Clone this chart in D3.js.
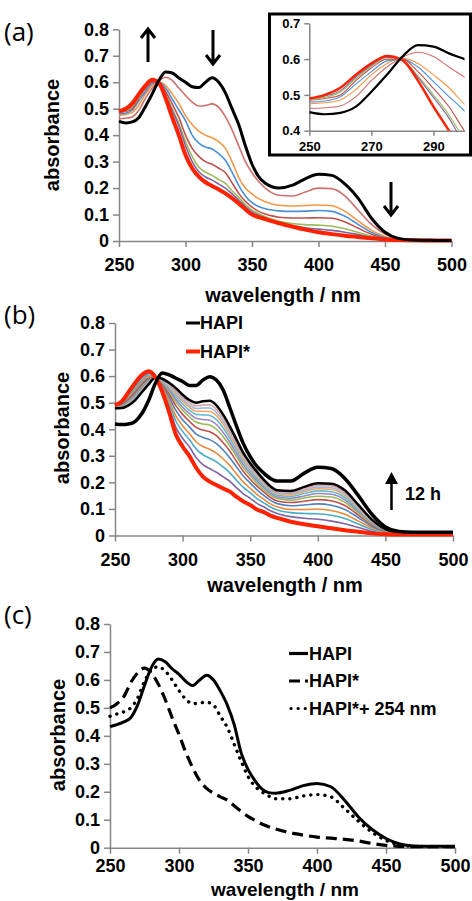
<!DOCTYPE html>
<html><head><meta charset="utf-8">
<script src="https://cdn.jsdelivr.net/npm/d3@7"></script>
<style>
html,body{margin:0;padding:0;background:#fff;}
svg{display:block;}
</style></head><body>
<svg id="chart" width="472" height="901"></svg>
<script>
// ---------- data ----------
const W = [250,255,260,265,270,275,280,285,290,295,300,305,310,315,320,325,330,335,340,345,350,355,360,365,370,380,390,400,410,420,430,440,450,460,470,480,490,500];
const yTicks = [0,0.1,0.2,0.3,0.4,0.5,0.6,0.7,0.8];
const xTicks = [250,300,350,400,450,500];
const insetXTicks = [250,270,290];
const insetYTicks = [0.4,0.5,0.6,0.7];

// panel (a)
const aHAPI = [.452,.446,.45,.467,.509,.556,.607,.639,.635,.616,.60,.583,.58,.60,.617,.60,.56,.50,.44,.36,.29,.243,.218,.205,.20,.21,.235,.252,.248,.215,.16,.085,.033,.01,.004,.003,.002,.002];
const aStep1 = [.462,.464,.469,.495,.54,.578,.605,.619,.607,.578,.55,.525,.51,.512,.518,.505,.47,.42,.36,.30,.258,.225,.20,.182,.173,.17,.185,.20,.198,.17,.115,.062,.026,.009,.004,.003,.002,.002];
const aStep2 = [.475,.478,.486,.515,.556,.588,.602,.588,.556,.52,.474,.44,.415,.40,.39,.375,.35,.30,.24,.20,.178,.16,.148,.14,.135,.132,.134,.136,.133,.112,.075,.04,.017,.007,.003,.002,.002,.002];
const aStep3 = [.48,.483,.495,.53,.565,.595,.60,.578,.537,.495,.455,.40,.37,.355,.348,.33,.305,.26,.21,.17,.145,.13,.122,.117,.114,.112,.113,.115,.112,.093,.062,.032,.013,.005,.003,.002,.002,.002];
const aStep4 = [.485,.49,.50,.54,.575,.60,.60,.565,.518,.467,.40,.35,.32,.30,.29,.275,.258,.22,.18,.15,.128,.112,.102,.095,.09,.087,.087,.088,.086,.072,.048,.025,.01,.004,.003,.002,.002,.002];
const aStep5 = [.487,.493,.508,.545,.58,.604,.597,.553,.50,.444,.375,.32,.28,.26,.248,.232,.218,.19,.165,.138,.117,.103,.092,.082,.075,.066,.062,.06,.056,.046,.032,.018,.008,.004,.003,.002,.002,.002];
const aStep6 = [.489,.497,.512,.55,.583,.605,.597,.549,.493,.435,.36,.30,.262,.242,.23,.215,.20,.178,.155,.13,.11,.097,.087,.077,.07,.058,.05,.045,.04,.033,.024,.014,.007,.004,.003,.002,.002,.002];
const aHAPIstar = [.49,.50,.52,.556,.588,.609,.597,.54,.467,.40,.325,.275,.243,.222,.208,.195,.18,.162,.142,.12,.10,.09,.083,.075,.068,.055,.043,.033,.026,.02,.015,.01,.006,.004,.003,.002,.002,.002];

// panel (b)
const bHAPI = [.42,.418,.42,.43,.46,.51,.575,.612,.605,.592,.58,.565,.565,.585,.598,.585,.548,.48,.41,.345,.297,.26,.235,.215,.205,.205,.235,.257,.252,.215,.15,.08,.032,.015,.012,.012,.012,.012];
const b12h = [.479,.48,.49,.51,.54,.57,.595,.59,.575,.555,.53,.51,.50,.505,.507,.49,.455,.41,.36,.31,.272,.24,.21,.185,.17,.168,.183,.197,.195,.17,.115,.06,.024,.011,.008,.007,.007,.007];
const bHAPIstar = [.49,.505,.54,.575,.605,.618,.595,.54,.465,.38,.335,.30,.255,.222,.203,.19,.177,.165,.145,.128,.115,.098,.088,.075,.066,.052,.042,.035,.027,.02,.014,.008,.005,.004,.004,.004,.004,.004];
const bT1 = [.488,.501,.532,.565,.595,.610,.595,.548,.483,.408,.366,.334,.294,.267,.252,.238,.221,.204,.179,.157,.14,.121,.108,.093,.083,.071,.065,.061,.054,.044,.03,.016,.008,.005,.004,.004,.004,.004];
const bT2 = [.487,.498,.526,.556,.586,.604,.595,.555,.497,.431,.392,.361,.326,.304,.291,.277,.258,.236,.207,.181,.161,.139,.123,.107,.096,.086,.083,.082,.076,.064,.043,.023,.011,.006,.005,.005,.005,.005];
const bT3 = [.486,.495,.52,.549,.579,.599,.595,.56,.509,.45,.413,.384,.353,.335,.325,.31,.288,.263,.231,.201,.178,.155,.137,.119,.108,.098,.098,.10,.094,.08,.054,.029,.013,.007,.005,.005,.005,.005];
const bT4 = [.484,.492,.514,.541,.571,.593,.595,.566,.522,.471,.436,.409,.382,.369,.361,.346,.322,.292,.257,.223,.197,.172,.151,.132,.12,.112,.115,.119,.114,.098,.067,.035,.015,.008,.006,.005,.005,.005];
const bT5 = [.483,.49,.509,.535,.565,.588,.595,.571,.533,.489,.456,.43,.407,.397,.391,.376,.349,.317,.278,.241,.212,.186,.164,.143,.13,.124,.129,.135,.131,.113,.077,.04,.017,.008,.006,.006,.006,.006];
const bT6 = [.482,.488,.505,.53,.56,.584,.595,.575,.542,.503,.472,.447,.427,.42,.416,.40,.372,.337,.296,.255,.225,.197,.173,.152,.139,.133,.141,.148,.145,.125,.085,.044,.018,.009,.006,.006,.006,.006];
const bT7 = [.482,.486,.502,.526,.556,.582,.595,.578,.549,.513,.483,.46,.441,.437,.434,.418,.388,.351,.308,.266,.234,.206,.181,.159,.145,.14,.149,.158,.155,.134,.091,.048,.019,.009,.007,.006,.006,.006];
const bT8 = [.481,.485,.499,.522,.552,.579,.595,.581,.555,.524,.495,.472,.456,.454,.452,.436,.405,.366,.321,.277,.244,.214,.188,.165,.151,.147,.158,.168,.165,.143,.097,.051,.021,.010,.007,.006,.006,.006];
const bT9 = [.48,.483,.497,.518,.548,.576,.595,.584,.561,.532,.505,.483,.468,.468,.467,.451,.419,.378,.332,.286,.252,.222,.194,.171,.156,.153,.165,.176,.173,.151,.102,.053,.022,.010,.007,.007,.007,.007];
const bT10 = [.48,.482,.495,.516,.546,.574,.595,.586,.565,.539,.512,.491,.478,.48,.48,.463,.43,.388,.341,.294,.258,.227,.199,.175,.161,.158,.17,.182,.18,.157,.106,.055,.022,.010,.007,.007,.007,.007];
const bT11 = [.48,.481,.493,.513,.543,.572,.595,.588,.57,.546,.52,.50,.488,.491,.492,.475,.441,.398,.349,.301,.264,.233,.204,.18,.165,.162,.176,.189,.187,.163,.11,.057,.023,.011,.008,.007,.007,.007];

// panel (c)
const cHAPI = [.433,.44,.45,.465,.51,.58,.645,.675,.665,.64,.62,.595,.58,.60,.617,.60,.56,.51,.44,.34,.28,.24,.21,.197,.195,.205,.222,.23,.218,.17,.11,.065,.033,.013,.006,.005,.005,.005];
const cHAPIstar = [.50,.515,.54,.59,.625,.642,.625,.585,.53,.465,.405,.34,.285,.24,.212,.195,.182,.17,.15,.13,.112,.098,.085,.075,.067,.054,.045,.038,.034,.03,.024,.015,.008,.005,.004,.004,.004,.004];
const cHAPIstarUV = [.47,.478,.486,.50,.535,.595,.635,.647,.632,.60,.562,.53,.515,.518,.52,.51,.47,.43,.37,.31,.255,.22,.20,.185,.175,.175,.185,.19,.182,.14,.095,.055,.026,.01,.005,.004,.004,.004];

const legendB = ["HAPI", "HAPI*"];
const legendC = ["HAPI", "HAPI*", "HAPI*+ 254 nm"];

// ---------- drawing ----------
const svg = d3.select("#chart");
const FONT = '"Liberation Sans", Arial, Helvetica, sans-serif';
const AXIS = "#868686";
const RED = "#ff2200";
const fmt = d => d === 0 ? "0" : d.toFixed(1);

function styleAxis(g, size) {
  g.select(".domain").attr("stroke", AXIS).attr("stroke-width", 1.5);
  g.selectAll(".tick line").attr("stroke", AXIS).attr("stroke-width", 1.5);
  g.selectAll(".tick text").attr("fill", "#000").style("font-family", FONT)
    .style("font-weight", "bold").style("font-size", size + "px");
}

function drawPanel(p) {
  const g = svg.append("g");
  const x = d3.scaleLinear().domain([250, 500]).range([p.left, p.right]);
  const y = d3.scaleLinear().domain([0, 0.8]).range([p.bottom, p.top]);
  const gy = g.append("g").attr("transform", `translate(${p.left},0)`)
    .call(d3.axisLeft(y).tickValues(yTicks).tickSize(6).tickSizeOuter(0).tickPadding(4).tickFormat(fmt));
  styleAxis(gy, 18);
  const gx = g.append("g").attr("transform", `translate(0,${p.bottom})`)
    .call(d3.axisBottom(x).tickValues(xTicks).tickSize(6).tickSizeOuter(0).tickFormat(d3.format("d")));
  styleAxis(gx, 18);
  gx.selectAll(".tick text").attr("y", p.xLab).attr("dy", "0.35em");
  const line = d3.line().x((d, i) => x(W[i])).y(d => y(d)).curve(d3.curveMonotoneX);
  p.series.forEach(s => {
    g.append("path").datum(s.v).attr("d", line).attr("fill", "none")
      .attr("stroke", s.c).attr("stroke-width", s.w)
      .attr("stroke-dasharray", s.dash || null)
      .attr("stroke-linecap", s.cap || "butt").attr("stroke-linejoin", "round");
  });
  // axis titles
  g.append("text").attr("transform", `translate(${p.yt[0]},${p.yt[1]}) rotate(-90)`)
    .attr("text-anchor", "middle").attr("dy", "0.35em")
    .style("font-family", FONT).style("font-weight", "bold").style("font-size", "20px")
    .text("absorbance");
  g.append("text").attr("x", p.xt[0]).attr("y", p.xt[1]).attr("text-anchor", "middle").attr("dy", "0.35em")
    .style("font-family", FONT).style("font-weight", "bold").style("font-size", (p.xtSize || 20) + "px")
    .text("wavelength / nm");
  g.append("text").attr("x", p.lab[0]).attr("y", p.lab[1]).attr("dy", "0.35em")
    .style("font-family", '"Open Sans", "Liberation Sans", sans-serif').style("font-size", "26px")
    .text(p.label);
  return { x, y, g };
}

const aColors = ["#d0706e", "#f79646", "#4a8fd6", "#c0504d", "#9bbb59", "#8064a2"];
const aSteps = [aStep1, aStep2, aStep3, aStep4, aStep5, aStep6];

// Panel (a)
const aSeries = aSteps.map((v, i) => ({ v, c: aColors[i], w: 1.6 }))
  .concat([{ v: aHAPIstar, c: RED, w: 4 }, { v: aHAPI, c: "#000", w: 3 }]);
drawPanel({ left: 119, right: 451.5, top: 29.3, bottom: 241, xLab: 24, series: aSeries,
  yt: [52, 135], xt: [283, 295], lab: [4, 32], label: "(a)" });

// Panel (b)
const bColors = ["#8064a2", "#4bacc6", "#e8893a", "#4f81bd", "#c0504d", "#9bbb59", "#9a86c4", "#62bcd2", "#f6a55e", "#9bb7dc", "#d9a3a1"];
const bSteps = [bT1, bT2, bT3, bT4, bT5, bT6, bT7, bT8, bT9, bT10, bT11];
const bSeries = bSteps.map((v, i) => ({ v, c: bColors[i], w: 1.6 }))
  .concat([{ v: b12h, c: "#000", w: 2.5 }, { v: bHAPIstar, c: RED, w: 4 }, { v: bHAPI, c: "#000", w: 3.5 }]);
drawPanel({ left: 115, right: 453, top: 323, bottom: 535.5, xLab: 24, series: bSeries,
  yt: [62, 428], xt: [285, 585], lab: [4, 315], label: "(b)" });

// Panel (c)
const cSeries = [
  { v: cHAPIstar, c: "#000", w: 3.2, dash: "11 6" },
  { v: cHAPIstarUV, c: "#000", w: 3.4, dash: "0.1 7", cap: "round" },
  { v: cHAPI, c: "#000", w: 3 }
];
drawPanel({ left: 110, right: 455, top: 624, bottom: 847.7, xLab: 18, series: cSeries,
  yt: [58, 735], xt: [285, 889], xtSize: 19, lab: [4, 615], label: "(c)" });

// Arrows in (a)
function openArrow(x, yTail, yTip) {
  const d = yTip < yTail ? 1 : -1;
  svg.append("path").attr("d", `M${x},${yTail}L${x},${yTip}M${x - 7},${yTip + d * 9}L${x},${yTip}L${x + 7},${yTip + d * 9}`)
    .attr("fill", "none").attr("stroke", "#000").attr("stroke-width", 3).attr("stroke-linejoin", "miter");
}
openArrow(148, 62, 29);
openArrow(213, 30, 64);
openArrow(391, 182, 215);

// Arrow + label in (b)
svg.append("path").attr("d", "M391.5,510L391.5,482").attr("stroke", "#000").attr("stroke-width", 2.5);
svg.append("path").attr("d", "M385,484L391.5,472L398,484Z").attr("fill", "#000");
svg.append("text").attr("x", 405).attr("y", 494).attr("dy", "0.35em")
  .style("font-family", FONT).style("font-weight", "bold").style("font-size", "18px").text("12 h");

// Legend (b)
const legB = [{ c: "#000", w: 3 }, { c: RED, w: 4 }];
legendB.forEach((t, i) => {
  const yy = 323 + i * 28.5;
  svg.append("line").attr("x1", 186).attr("x2", 200).attr("y1", yy).attr("y2", yy)
    .attr("stroke", legB[i].c).attr("stroke-width", legB[i].w);
  svg.append("text").attr("x", 200).attr("y", yy).attr("dy", "0.35em")
    .style("font-family", FONT).style("font-weight", "bold").style("font-size", "18px").text(t);
});

// Legend (c)
const legC = [{ dash: null, cap: "butt" }, { dash: "11 5", cap: "butt" }, { dash: "0.1 7", cap: "round" }];
legendC.forEach((t, i) => {
  const yy = 653.5 + i * 27.5;
  svg.append("line").attr("x1", i === 2 ? 291 : 289).attr("x2", i === 2 ? 306 : 308).attr("y1", yy).attr("y2", yy)
    .attr("stroke", "#000").attr("stroke-width", 3.2).attr("stroke-dasharray", legC[i].dash)
    .attr("stroke-linecap", legC[i].cap);
  svg.append("text").attr("x", 309).attr("y", yy).attr("dy", "0.35em")
    .style("font-family", FONT).style("font-weight", "bold").style("font-size", "18px").text(t);
});

// Inset of (a)
const ix = d3.scaleLinear().domain([250, 300]).range([309.3, 464.5]);
const iy = d3.scaleLinear().domain([0.4, 0.7]).range([130.7, 23.3]);
const ig = svg.append("g");
ig.append("rect").attr("x", 269.5).attr("y", 14).attr("width", 201).attr("height", 141)
  .attr("fill", "#fff").attr("stroke", "#000").attr("stroke-width", 3);
svg.append("defs").append("clipPath").attr("id", "iclip").append("rect")
  .attr("x", 309.3).attr("y", 23.3).attr("width", 155.2).attr("height", 107.4);
const igy = ig.append("g").attr("transform", "translate(309.3,0)")
  .call(d3.axisLeft(iy).tickValues(insetYTicks).tickSize(5).tickSizeOuter(0).tickPadding(4).tickFormat(d => d.toFixed(1)));
styleAxis(igy, 13);
const igx = ig.append("g").attr("transform", "translate(0,130.7)")
  .call(d3.axisBottom(ix).tickValues(insetXTicks).tickSize(5).tickSizeOuter(0).tickFormat(d3.format("d")));
styleAxis(igx, 13);
igx.selectAll(".tick text").attr("y", 16).attr("dy", "0.35em");
const iline = d3.line().x((d, i) => ix(W[i])).y(d => iy(d)).curve(d3.curveMonotoneX);
const il = ig.append("g").attr("clip-path", "url(#iclip)");
aSeries.forEach(s => {
  il.append("path").datum(s.v).attr("d", iline).attr("fill", "none").attr("stroke", s.c)
    .attr("stroke-width", s.c === RED ? 2.5 : (s.c === "#000" ? 2.2 : 1.1)).attr("stroke-linejoin", "round");
});
</script>
</body></html>
